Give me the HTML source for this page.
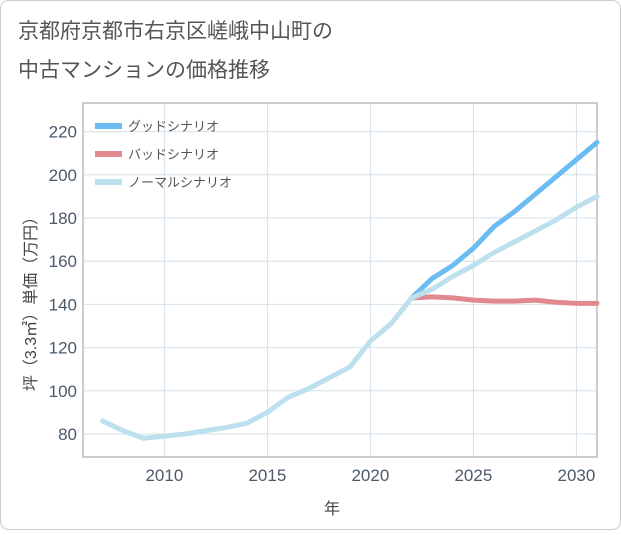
<!DOCTYPE html>
<html><head><meta charset="utf-8"><style>
body{margin:0;background:#fff;font-family:"Liberation Sans","Noto Sans CJK JP",sans-serif;}
</style></head><body>
<svg width="621" height="530" xmlns="http://www.w3.org/2000/svg" font-family="Liberation Sans, Noto Sans CJK JP, sans-serif">
<rect x="0.5" y="0.5" width="620" height="529" rx="8" fill="#fff" stroke="#ccc"/>
<text x="18" y="38" font-size="21" fill="#555">京都府京都市右京区嵯峨中山町の</text>
<text x="18" y="77" font-size="21" fill="#555">中古マンションの価格推移</text>
<g id="plot"></g>
<text x="332" y="514" font-size="16" fill="#444" text-anchor="middle">年</text>
<text transform="translate(36,300) rotate(-90)" font-size="16" fill="#444" text-anchor="middle">坪（3.3㎡）単価（万円）</text>
</svg>
<script>
const years=[2007,2008,2009,2010,2011,2012,2013,2014,2015,2016,2017,2018,2019,2020,2021,2022,2023,2024,2025,2026,2027,2028,2029,2030,2031];
const normal=[86,81.5,78,79,80,81.5,83,85,90,97,101,106,111,123,131,143,147,153,158,164,169,174,179,185,190];
const futYears=[2022,2023,2024,2025,2026,2027,2028,2029,2030,2031];
const good=[143,152,158,166,176,183,191,199,207,215];
const bad=[143,143.5,143,142,141.5,141.5,142,141,140.5,140.5];
const xTicks=[2010,2015,2020,2025,2030];
const yTicks=[80,100,120,140,160,180,200,220];
const X0=83,X1=597,Y0=103,Y1=457;
const xs=y=>X0+(y-2006.05)*(X1-X0)/24.95;
const ys=v=>434-(v-80)*43.2/20;
const NS="http://www.w3.org/2000/svg";
const g=document.getElementById('plot');
function mk(t,a){const e=document.createElementNS(NS,t);for(const k in a)e.setAttribute(k,a[k]);g.appendChild(e);return e;}
let r=mk('rect',{x:X0,y:Y0,width:X1-X0,height:Y1-Y0,fill:'none',stroke:'#999'});


xTicks.forEach(t=>{let l=mk('line',{x1:xs(t),x2:xs(t),y1:Y0,y2:Y1,stroke:'#d5e0ea'});


let tx=mk('text',{x:xs(t),y:481,'font-size':17,fill:'#4a5a6a','text-anchor':'middle'});tx.textContent=t;

});
yTicks.forEach(t=>{let l=mk('line',{x1:X0,x2:X1,y1:ys(t),y2:ys(t),stroke:'#d5e0ea'});


let tx=mk('text',{x:77,y:ys(t)+6,'font-size':17,fill:'#4a5a6a','text-anchor':'end'});tx.textContent=t;

});
function line(xv,yv,c,n){let p=mk('polyline',{points:xv.map((x,i)=>xs(x)+','+ys(yv[i])).join(' '),fill:'none',stroke:c,'stroke-width':5,'stroke-linejoin':'round','stroke-linecap':'round'});

}
line(futYears,bad,'#e08a90','bad-scenario-line');
line(futYears,good,'#6bbcf2','good-scenario-line');
line(years,normal,'#bde0ee','normal-scenario-line');
[['グッドシナリオ','#6bbcf2'],['バッドシナリオ','#e08a90'],['ノーマルシナリオ','#bde0ee']].forEach((d,i)=>{
let y=126+i*28;
let l=mk('line',{x1:95,x2:122,y1:y,y2:y,stroke:d[1],'stroke-width':6});


let t=mk('text',{x:128,y:y+5,'font-size':13,fill:'#555'});t.textContent=d[0];

});
</script>
</body></html>
